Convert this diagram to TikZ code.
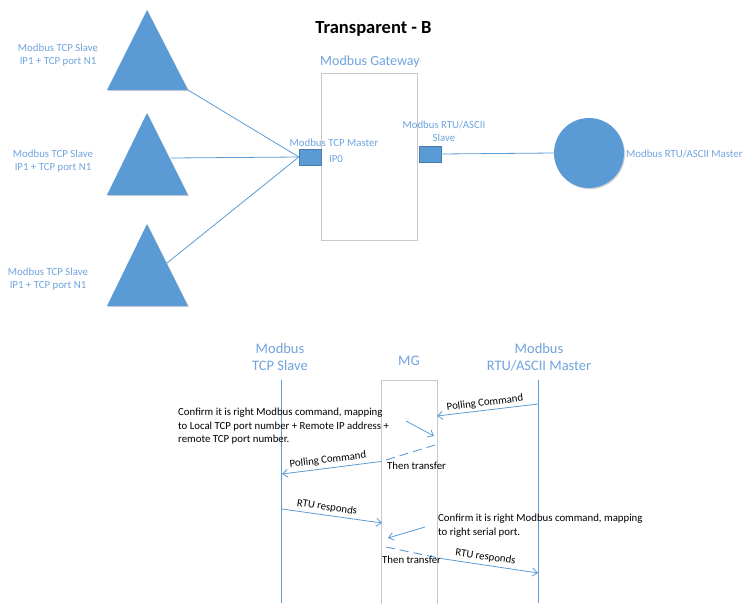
\documentclass[tikz,border=0pt]{standalone}
\usepackage{fontspec}
\setmainfont{Carlito}
\usetikzlibrary{arrows.meta}
\definecolor{bl}{HTML}{5B9BD5}
\definecolor{tb}{HTML}{6FA3DC}
\definecolor{gr}{HTML}{C9C9C9}
\begin{document}
\begin{tikzpicture}[x=1pt,y=-1pt,
  lbl/.style={text=tb, font=\fontsize{10.8}{13}\selectfont, align=center, inner sep=0},
  hdr/.style={text=tb, font=\fontsize{14.5}{17}\selectfont, align=center, inner sep=0},
  note/.style={text=black, font=\fontsize{10.8}{13.5}\selectfont, align=left, inner sep=0},
  conn/.style={draw=bl, line width=0.8pt},
  msg/.style={draw=bl, line width=0.8pt, -{Straight Barb[length=5pt,width=8pt]}},
  dsh/.style={draw=bl, line width=0.9pt, dash pattern=on 9pt off 5pt},
  port/.style={fill=bl, draw=bl!80!black, line width=0.3pt, minimum width=22pt, minimum height=16pt, inner sep=0},
  life/.style={draw=bl, line width=1pt},
  tri/.style={fill=bl}
]
\useasboundingbox (0,0) rectangle (745,603);

% title
\node[inner sep=0, font=\fontsize{18.5}{20}\selectfont\bfseries, anchor=base] (title) at (373.5,33) {Transparent - B};

% triangles
\coordinate (t1a) at (147,10);  \coordinate (t1l) at (107,90);  \coordinate (t1r) at (188,90);
\coordinate (t2a) at (147,113); \coordinate (t2l) at (107,195); \coordinate (t2r) at (188,195);
\coordinate (t3a) at (147,224); \coordinate (t3l) at (107,306); \coordinate (t3r) at (188,306);
\fill[gray!35] ([shift={(1,1.2)}]t1a) -- ([shift={(1,1.2)}]t1l) -- ([shift={(1,1.2)}]t1r) -- cycle;
\fill[gray!35] ([shift={(1,1.2)}]t2a) -- ([shift={(1,1.2)}]t2l) -- ([shift={(1,1.2)}]t2r) -- cycle;
\fill[gray!35] ([shift={(1,1.2)}]t3a) -- ([shift={(1,1.2)}]t3l) -- ([shift={(1,1.2)}]t3r) -- cycle;
\fill[tri] (t1a) -- (t1l) -- (t1r) -- cycle;
\fill[tri] (t2a) -- (t2l) -- (t2r) -- cycle;
\fill[tri] (t3a) -- (t3l) -- (t3r) -- cycle;
\coordinate (t2e) at (171,158);
\coordinate (t3e) at (167,263);

\node[lbl] (s1) at (58,55.5) {Modbus TCP Slave\\IP1 + TCP port N1};
\node[lbl] (s2) at (53,161.5) {Modbus TCP Slave\\IP1 + TCP port N1};
\node[lbl] (s3) at (48,279.5) {Modbus TCP Slave\\IP1 + TCP port N1};

% gateway
\node[draw=gr, line width=1pt, minimum width=96pt, minimum height=167pt, inner sep=0] (gw) at (369,156.5) {};
\node[text=tb, font=\fontsize{14}{16}\selectfont, inner sep=0] (gwl) at (370,62) {Modbus Gateway};
\node[port] (tcpport) at (310,157) {};
\node[port] (rtuport) at (430,154) {};
\node[lbl] (tcpl) at (334,143) {Modbus TCP Master};
\node[lbl] (ip0) at (336,159) {IP0};
\node[lbl] (rtul) at (444,131.5) {Modbus RTU/ASCII\\Slave};

% master circle
\fill[gray!35] (590,154.2) circle (35);
\node[circle, fill=bl, minimum size=70pt, inner sep=0] (master) at (589,153) {};
\node[lbl, anchor=west] (masterl) at (626,154) {Modbus RTU/ASCII Master};

% connectors
\draw[conn] (t1r) -- (tcpport.west);
\draw[conn] (t2e) -- (tcpport.west);
\draw[conn] (t3e) -- (tcpport.west);
\draw[conn] (rtuport.east) -- (master.west);

% sequence diagram
\node[hdr] (h1) at (280,357.5) {Modbus\\TCP Slave};
\node[hdr] (h2) at (409,361) {MG};
\node[hdr] (h3) at (539,357.5) {Modbus\\RTU/ASCII Master};

\coordinate (l1t) at (281,380); \coordinate (l1b) at (281,603);
\coordinate (l3t) at (538,380); \coordinate (l3b) at (538,603);
\draw[life] (l1t) -- (l1b);
\draw[life] (l3t) -- (l3b);
\draw[draw=gr, line width=1pt] (381,610) -- (381,380) -- (437,380) -- (437,610);

% message 1
\coordinate (m1s) at (538,404); \coordinate (m1e) at (437,416);
\draw[msg] (m1s) -- (m1e);
\node[note, rotate=7] (m1l) at (485,403) {Polling Command};

\coordinate (m2s) at (406,421); \coordinate (m2e) at (434,436);
\draw[msg] (m2s) -- (m2e);
\node[note, anchor=west] (n1) at (178,426.5) {Confirm it is right Modbus command, mapping\\to Local TCP port number + Remote IP address +\\remote TCP port number.};

\coordinate (m3s) at (435,445); \coordinate (m3b) at (381,461.5); \coordinate (m3e) at (282,474);
\draw[dsh] (m3s) -- (m3b);
\draw[msg] (m3b) -- (m3e);
\node[note, rotate=7] (m3l) at (328,460) {Polling Command};
\node[note, anchor=west] (tt1) at (387,466) {Then transfer};

% response
\coordinate (r1s) at (282,509); \coordinate (r1e) at (382,523);
\draw[msg] (r1s) -- (r1e);
\node[note, rotate=-8] (r1l) at (327,507.5) {RTU responds};

\coordinate (r2s) at (425,527); \coordinate (r2e) at (388,538);
\draw[msg] (r2s) -- (r2e);
\node[note, anchor=west] (n2) at (438,525.5) {Confirm it is right Modbus command, mapping\\to right serial port.};

\coordinate (r3s) at (386,547); \coordinate (r3b) at (441,558.5); \coordinate (r3e) at (538,573);
\draw[dsh] (r3s) -- (r3b);
\draw[msg] (r3b) -- (r3e);
\node[note, rotate=-7.5] (r3l) at (485.5,557) {RTU responds};
\node[note, anchor=west] (tt2) at (382,560) {Then transfer};
\end{tikzpicture}
\end{document}
